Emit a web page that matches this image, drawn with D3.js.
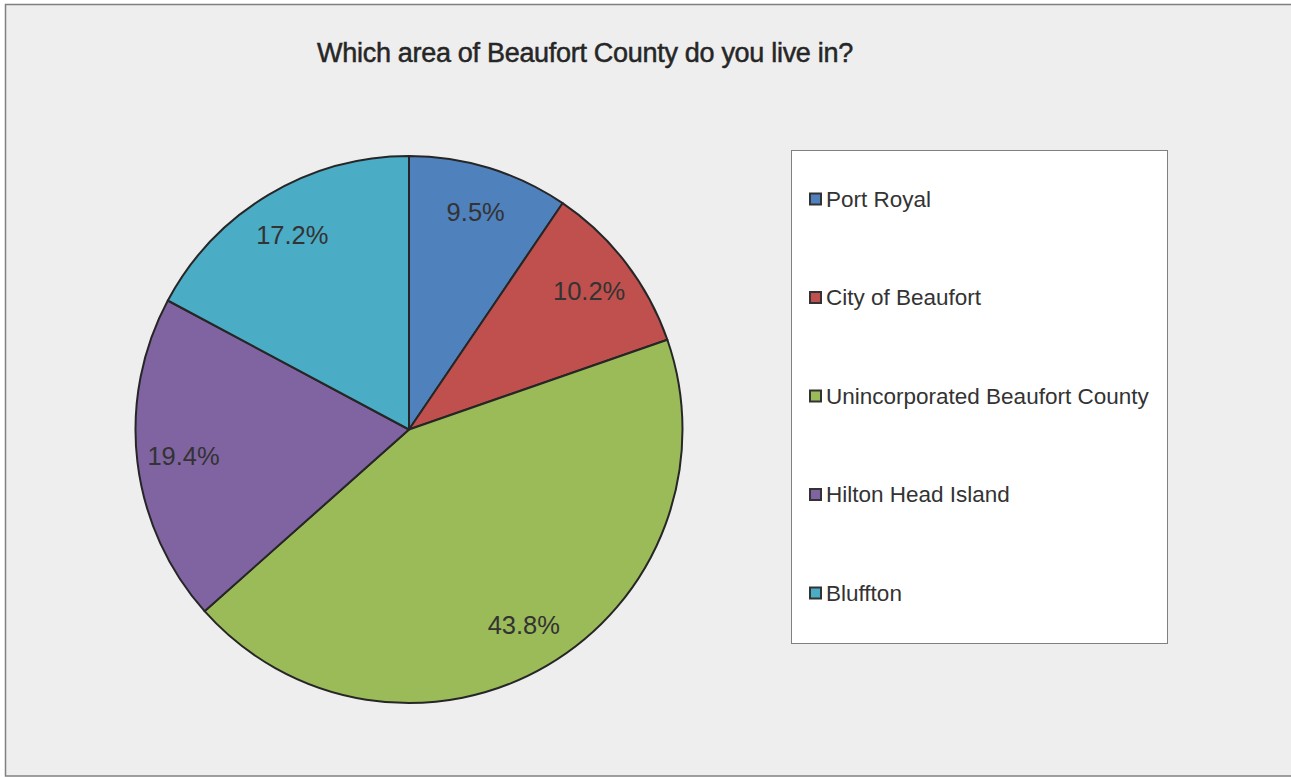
<!DOCTYPE html>
<html>
<head>
<meta charset="utf-8">
<script src="https://cdn.jsdelivr.net/npm/d3@7"></script>
<style>
  html, body { margin: 0; padding: 0; background: #fff; }
  svg { display: block; font-family: "Liberation Sans", Arial, sans-serif; }
</style>
</head>
<body>
<div id="app"></div>
<script>
// chart data
const categories = ['Port Royal', 'City of Beaufort', 'Unincorporated Beaufort County', 'Hilton Head Island', 'Bluffton']
const values = [9.5, 10.2, 43.8, 19.4, 17.2]
const colors = ['#4F81BD', '#C0504D', '#9BBB59', '#8064A2', '#4BACC6']
const title = 'Which area of Beaufort County do you live in?'

const width = 1291
const height = 777

const app = d3.select('#app')

const svg = app.append('svg')
  .attr('width', width)
  .attr('height', height)

// chart area background + border
svg.append('rect')
  .attr('x', 5.5).attr('y', 4.5)
  .attr('width', 1300).attr('height', 771.5)
  .attr('fill', '#EEEEEE')
  .attr('stroke', '#808080')
  .attr('stroke-width', 1.5)

// title
svg.append('text')
  .attr('x', 585)
  .attr('y', 62)
  .attr('text-anchor', 'middle')
  .attr('font-size', 27)
  .attr('fill', '#262626')
  .attr('stroke', '#262626')
  .attr('stroke-width', 0.5)
  .attr('letter-spacing', -0.3)
  .text(title)

// pie
const cx = 409, cy = 429.5, R = 273.5
const data = categories.map((c, i) => ({ name: c, value: values[i], color: colors[i] }))

const pie = d3.pie().sort(null).value((d) => d.value)
const arcs = pie(data)
const arc = d3.arc().innerRadius(0).outerRadius(R)
const labelArc = d3.arc().innerRadius(R * 0.83).outerRadius(R * 0.83)

const g = svg.append('g').attr('transform', `translate(${cx},${cy})`)

g.selectAll('path')
  .data(arcs)
  .join('path')
  .attr('d', arc)
  .attr('fill', (d) => d.data.color)
  .attr('stroke', '#262626')
  .attr('stroke-width', 2)
  .attr('stroke-linejoin', 'round')

g.selectAll('text')
  .data(arcs)
  .join('text')
  .attr('x', (d) => labelArc.centroid(d)[0])
  .attr('y', (d) => labelArc.centroid(d)[1])
  .attr('dy', '0.35em')
  .attr('text-anchor', 'middle')
  .attr('font-size', 25.5)
  .attr('fill', '#333333')
  .text((d) => d.data.value.toFixed(1) + '%')

// legend
const legend = svg.append('g')
legend.append('rect')
  .attr('x', 791.5).attr('y', 150.5)
  .attr('width', 376).attr('height', 493)
  .attr('fill', '#ffffff')
  .attr('stroke', '#808080')
  .attr('stroke-width', 1)

const ly = d3.scalePoint()
  .domain(categories)
  .range([199, 593])

const item = legend.selectAll('g.item')
  .data(data)
  .join('g')
  .attr('class', 'item')
  .attr('transform', (d) => `translate(0,${ly(d.name)})`)

item.append('rect')
  .attr('x', 810).attr('y', -5.5)
  .attr('width', 11).attr('height', 11)
  .attr('fill', (d) => d.color)
  .attr('stroke', '#333333')
  .attr('stroke-width', 2)

item.append('text')
  .attr('x', 826)
  .attr('y', 0)
  .attr('dy', '0.35em')
  .attr('font-size', 22.5)
  .attr('fill', '#333333')
  .text((d) => d.name)
</script>
</body>
</html>
